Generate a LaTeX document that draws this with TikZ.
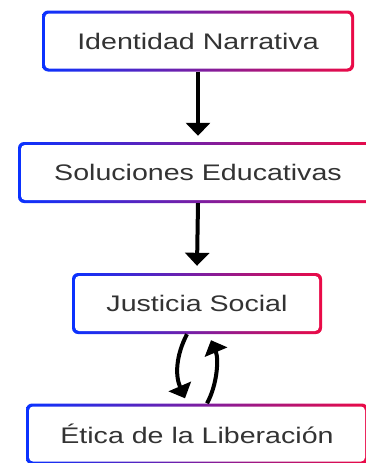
\documentclass[tikz,border=0pt]{standalone}
\usepackage{fontspec}
\newfontfamily\boxfont[FakeStretch=1.27]{Liberation Sans}
\usetikzlibrary{arrows.meta,shadows}
\definecolor{blueC}{RGB}{10,50,255}
\definecolor{redC}{RGB}{235,10,70}
\definecolor{textC}{RGB}{51,51,51}
\tikzset{
  box/.style={rounded corners=6pt, minimum height=61pt, left color=blueC, right color=redC,
    text=textC, font=\boxfont\fontsize{22.5}{27}\selectfont,
    path picture={\fill[white,rounded corners=4pt]
      ([xshift=3pt,yshift=-3pt]path picture bounding box.north west) rectangle
      ([xshift=-3pt,yshift=3pt]path picture bounding box.south east);}},
  arr/.style={line width=4pt,-{Triangle[width=24pt,length=13pt]}}
}
\begin{document}
\begin{tikzpicture}[x=1pt,y=-1pt]
\useasboundingbox (0,0) rectangle (365,463);
\node[box,minimum width=312pt] (identidad) at (198,41) {Identidad Narrativa};
\node[box,minimum width=360pt] (soluciones) at (198,172.5) {Soluciones Educativas};
\node[box,minimum width=250pt] (justicia) at (197,303.5) {Justicia Social};
\node[box,minimum width=342pt] (etica) at (197,434) {Ética de la Liberación};
\draw[arr] (identidad.south) -- ([yshift=6pt]soluciones.north);
\draw[arr] (soluciones.south) -- ([yshift=7pt]justicia.north);
% ida y vuelta
\draw[arr] ([xshift=-10pt]justicia.south) .. controls +(-11,21) and +(-10,-23) .. ([xshift=-12pt,yshift=5pt]etica.north);
\draw[arr] ([xshift=10pt]etica.north) .. controls +(10,-18) and +(8,19) .. ([xshift=14pt,yshift=-6pt]justicia.south);
\end{tikzpicture}
\end{document}
